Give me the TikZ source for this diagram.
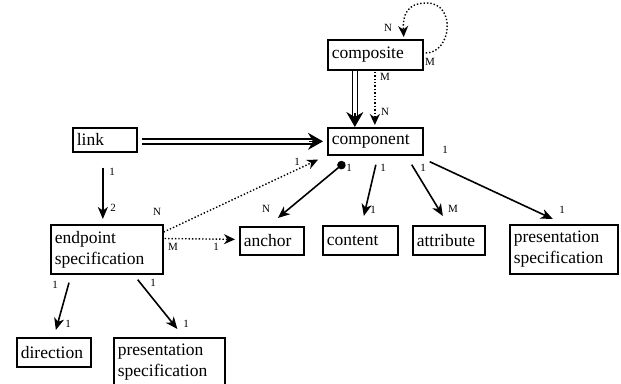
\documentclass[tikz,border=0pt]{standalone}
\usepackage{fontspec}
\setmainfont{Liberation Serif}
\newfontfamily\tms{Liberation Serif}
\usetikzlibrary{arrows.meta,calc}
\begin{document}
\begin{tikzpicture}[x=1pt,y=-1pt,
  box/.style={draw, line width=1.7pt, anchor=north west, inner xsep=4pt, inner ysep=0pt,
              align=left, font=\tms\fontsize{17.5}{21}\selectfont},
  lbl/.style={font=\tms\fontsize{11}{13}\selectfont, inner sep=0pt},
  arr/.style={line width=1.6pt, -{Stealth[length=12pt,width=10pt,inset=3.5pt]}},
  dotarr/.style={line width=1.4pt, dash pattern=on 1.4pt off 2pt, -{Stealth[length=11pt,width=10pt,inset=3.5pt]}},
  dblline/.style={double, double distance=3.5pt, line width=1.4pt, shorten >=10pt},
  dbltip/.style={line width=1.4pt, -{Stealth[length=15pt,width=17pt,inset=5pt]}}
]
\useasboundingbox (0,0) rectangle (621,383);

% entity boxes
\node[box, text width=87pt,  minimum height=30pt] (composite) at (327,39)  {composite};
\node[box, text width=87pt,  minimum height=27pt] (component) at (327,127) {component};
\node[box, text width=56pt,  minimum height=24pt] (link)      at (72,127)  {link};
\node[box, text width=104pt, minimum height=49pt] (endpoint)  at (50,224)  {endpoint\\specification};
\node[box, text width=56pt,  minimum height=28pt] (anchor)    at (239,226) {anchor};
\node[box, text width=67pt,  minimum height=29pt] (content)   at (322,225) {content};
\node[box, text width=64pt,  minimum height=29pt] (attribute) at (412,225) {attribute};
\node[box, text width=100pt, minimum height=49pt] (presR)     at (509,224) {presentation\\specification};
\node[box, text width=66pt,  minimum height=29pt] (direction) at (16,337)  {direction};
\node[box, text width=103pt, minimum height=49pt] (presL)     at (113,337) {presentation\\specification};

% composite self relation
\draw[dotarr] ($(composite.north east)+(2,14)$)
  .. controls ($(composite.north east)+(28,14)$) and ($(composite.north east)+(33,-36)$)
  .. ($(composite.north east)+(3,-36)$)
  .. controls ($(composite.north east)+(-17,-36)$) and ($(composite.north east)+(-21,-24)$)
  .. ($(composite.north east)+(-20,-2)$);
\node[lbl] (lcN) at (388,28) {N};
\node[lbl] (lcM) at (430,62) {M};

% composite -> component (double line, filled head)
\coordinate (ccTop) at ($(composite.south)+(-20.5,0)$);
\coordinate (ccEnd) at ($(component.north)+(-20.5,0)$);
\draw[dblline] (ccTop) -- (ccEnd);
\draw[dbltip] ($(ccEnd)+(0,-14)$) -- (ccEnd);
\draw[dotarr] ($(composite.south)+(-0.5,1)$) -- ($(component.north)+(-0.5,-2)$);
\node[lbl] (lccM) at (385,77) {M};
\node[lbl] (lccN) at (385,112) {N};

% link -> component (double line, filled head)
\coordinate (lcStart) at ($(link.east)+(4,1.5)$);
\coordinate (lcEnd) at ($(component.west)+(-4,0)$);
\draw[dblline] (lcStart) -- (lcEnd);
\draw[dbltip] ($(lcEnd)+(-14,0)$) -- (lcEnd);

% link -> endpoint specification
\draw[arr] ($(link.south)+(-2,15)$) -- ($(endpoint.north)+(-4,-5)$);
\node[lbl] (le1) at (112,172) {1};
\node[lbl] (le2) at (113,208) {2};

% endpoint specification -> component
\draw[dotarr] ($(endpoint.north east)+(0,8)$) -- ($(component.south west)+(-9,4)$);
\node[lbl] (lecN) at (157,212) {N};
\node[lbl] (lec1) at (297,162) {1};

% endpoint specification -> anchor
\draw[dotarr] ($(endpoint.north east)+(1,14.5)$) -- ($(anchor.west)+(-4,-1.5)$);
\node[lbl] (leaM) at (173,247) {M};
\node[lbl] (lea1) at (216,247) {1};

% component -> anchor
\draw[line width=1.6pt, {Circle[length=8.5pt]}-{Stealth[length=12pt,width=10pt,inset=3.5pt]}]
  ($(component.south west)+(17.7,6.7)$) -- ($(anchor.north)+(6,-8)$);
\node[lbl] (lca1) at (349,168) {1};
\node[lbl] (lcaN) at (266,209) {N};

% component -> content
\draw[arr] ($(component.south)+(0.5,9)$) -- ($(content.north)+(3.5,-9)$);
\node[lbl] (lco1) at (383,168) {1};
\node[lbl] (lco2) at (373,210) {1};

% component -> attribute
\draw[arr] ($(component.south east)+(-12,9)$) -- ($(attribute.north)+(-6,-9)$);
\node[lbl] (lat1) at (423,168) {1};
\node[lbl] (latM) at (453,209) {M};

% component -> presentation specification
\draw[arr] ($(component.south east)+(6,6)$) -- ($(presR.north)+(-11,-5)$);
\node[lbl] (lpr1) at (445,150) {1};
\node[lbl] (lpr2) at (562,210) {1};

% endpoint specification -> direction
\draw[arr] ($(endpoint.south west)+(19,8)$) -- ($(direction.north)+(2,-7)$);
\node[lbl] (ld1) at (55,285) {1};
\node[lbl] (ld2) at (68,324) {1};

% endpoint specification -> presentation specification
\draw[arr] ($(endpoint.south east)+(-26,5)$) -- ($(presL.north)+(8,-8)$);
\node[lbl] (lpl1) at (153,283) {1};
\node[lbl] (lpl2) at (186,324) {1};
\end{tikzpicture}
\end{document}
